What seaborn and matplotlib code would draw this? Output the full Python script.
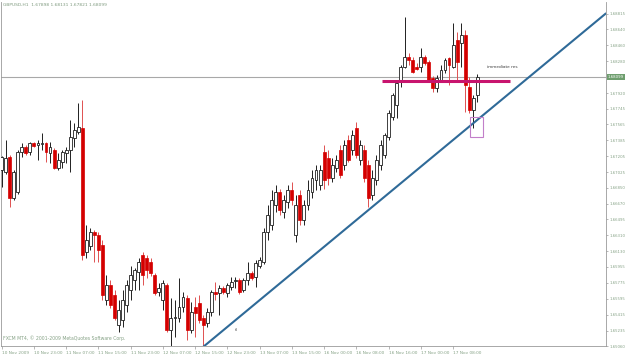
import matplotlib
matplotlib.use("Agg")
import matplotlib.pyplot as plt
import matplotlib.patches as mpatches
import seaborn as sns
import numpy as np
import pandas as pd

# ---------------- data ----------------
header_text = "GBPUSD,H1  1.67898 1.68131 1.67821 1.68099"
watermark = "FXCM MT4, \u00a9 2001-2009 MetaQuotes Software Corp."

opens = [1.6705, 1.6703, 1.6720, 1.6673, 1.6680, 1.6725, 1.6731, 1.6725, 1.6735, 1.6733,
         1.6734, 1.6735, 1.6724, 1.6728, 1.6707, 1.6714, 1.6724, 1.6728, 1.6741, 1.6748,
         1.6753, 1.6612, 1.6619, 1.6635, 1.6631, 1.6620, 1.6558, 1.6575, 1.6564, 1.6530,
         1.6535, 1.6552, 1.6569, 1.6581, 1.6590, 1.6609, 1.6606, 1.6601, 1.6586, 1.6567,
         1.6558, 1.6575, 1.6524, 1.6538, 1.6538, 1.6550, 1.6560, 1.6524, 1.6550, 1.6555,
         1.6538, 1.6532, 1.6544, 1.6567, 1.6566, 1.6572, 1.6566, 1.6573, 1.6579, 1.6581,
         1.6569, 1.6581, 1.6588, 1.6584, 1.6597, 1.6601, 1.6635, 1.6643, 1.6665, 1.6680,
         1.6658, 1.6669, 1.6682, 1.6632, 1.6677, 1.6648, 1.6665, 1.6680, 1.6694, 1.6688,
         1.6725, 1.6719, 1.6696, 1.6707, 1.6728, 1.6711, 1.6739, 1.6728, 1.6753, 1.6716,
         1.6728, 1.6711, 1.6677, 1.6694, 1.6711, 1.6722, 1.6742, 1.6765, 1.6779, 1.6805,
         1.6822, 1.6833, 1.6829, 1.6822, 1.6822, 1.6833, 1.6827, 1.6809, 1.6798, 1.6807,
         1.6818, 1.6832, 1.6822, 1.6852, 1.6849, 1.6858, 1.6799, 1.6773, 1.67898]
highs = [1.6721, 1.6739, 1.6722, 1.6705, 1.6728, 1.6735, 1.6733, 1.6737, 1.6737, 1.6739,
         1.6747, 1.6737, 1.6737, 1.6730, 1.6724, 1.6728, 1.6731, 1.6762, 1.6758, 1.6781,
         1.6784, 1.6643, 1.6639, 1.6637, 1.6635, 1.6626, 1.6586, 1.6581, 1.6569, 1.6558,
         1.6569, 1.6581, 1.6597, 1.6594, 1.6606, 1.6612, 1.6609, 1.6606, 1.6588, 1.6577,
         1.6581, 1.6577, 1.6560, 1.6558, 1.6583, 1.6567, 1.6564, 1.6556, 1.6561, 1.6564,
         1.6541, 1.6549, 1.6569, 1.6578, 1.6575, 1.6574, 1.6577, 1.6584, 1.6584, 1.6583,
         1.6583, 1.6601, 1.6591, 1.6603, 1.6607, 1.6639, 1.6665, 1.6682, 1.6688, 1.6684,
         1.6677, 1.6688, 1.6691, 1.6677, 1.6682, 1.6671, 1.6694, 1.6705, 1.6711, 1.6711,
         1.6733, 1.6728, 1.6719, 1.6722, 1.6733, 1.6739, 1.6745, 1.6750, 1.6759, 1.6739,
         1.6733, 1.6716, 1.6705, 1.6722, 1.6739, 1.6747, 1.6773, 1.6792, 1.6807, 1.6824,
         1.6878, 1.6837, 1.6833, 1.6826, 1.6843, 1.6835, 1.6829, 1.6811, 1.6812, 1.6824,
         1.6832, 1.6833, 1.6871, 1.6861, 1.6871, 1.6863, 1.6810, 1.6790, 1.68131]
lows = [1.6686, 1.6701, 1.6663, 1.6671, 1.6678, 1.6720, 1.6722, 1.6722, 1.6731, 1.6716,
        1.6728, 1.6714, 1.6713, 1.6706, 1.6705, 1.6707, 1.6713, 1.6703, 1.6731, 1.6746,
        1.6603, 1.6606, 1.6615, 1.6601, 1.6601, 1.6558, 1.6552, 1.6549, 1.6535, 1.6522,
        1.6527, 1.6544, 1.6558, 1.6569, 1.6569, 1.6575, 1.6583, 1.6585, 1.6564, 1.6563,
        1.6547, 1.6522, 1.6505, 1.6516, 1.6533, 1.6544, 1.6513, 1.6521, 1.6516, 1.6532,
        1.6505, 1.6528, 1.6540, 1.6558, 1.6541, 1.6565, 1.6561, 1.6569, 1.6572, 1.6565,
        1.6567, 1.6575, 1.6581, 1.6573, 1.6594, 1.6599, 1.6626, 1.6637, 1.6658, 1.6654,
        1.6651, 1.6662, 1.6665, 1.6624, 1.6643, 1.6643, 1.6660, 1.6673, 1.6682, 1.6682,
        1.6684, 1.6688, 1.6691, 1.6703, 1.6696, 1.6705, 1.6714, 1.6722, 1.6719, 1.6711,
        1.6691, 1.6663, 1.6671, 1.6688, 1.6705, 1.6719, 1.6739, 1.6762, 1.6764, 1.6799,
        1.6820, 1.6824, 1.6815, 1.6818, 1.6816, 1.6824, 1.6805, 1.6793, 1.6793, 1.6805,
        1.6815, 1.6801, 1.6820, 1.6807, 1.6822, 1.6771, 1.6769, 1.6753, 1.67821]
closes = [1.6720, 1.6719, 1.6673, 1.6703, 1.6725, 1.6731, 1.6724, 1.6735, 1.6732, 1.6735,
          1.6735, 1.6725, 1.6731, 1.6707, 1.6716, 1.6725, 1.6728, 1.6742, 1.6750, 1.6754,
          1.6609, 1.6626, 1.6635, 1.6631, 1.6615, 1.6564, 1.6575, 1.6552, 1.6538, 1.6547,
          1.6558, 1.6575, 1.6586, 1.6592, 1.6601, 1.6586, 1.6592, 1.6588, 1.6566, 1.6572,
          1.6577, 1.6524, 1.6538, 1.6539, 1.6550, 1.6561, 1.6524, 1.6544, 1.6543, 1.6535,
          1.6530, 1.6544, 1.6567, 1.6565, 1.6572, 1.6567, 1.6575, 1.6578, 1.6581, 1.6567,
          1.6581, 1.6588, 1.6583, 1.6600, 1.6603, 1.6635, 1.6654, 1.6671, 1.6680, 1.6660,
          1.6671, 1.6682, 1.6671, 1.6665, 1.6648, 1.6665, 1.6682, 1.6696, 1.6705, 1.6705,
          1.6694, 1.6696, 1.6711, 1.6716, 1.6699, 1.6733, 1.6716, 1.6745, 1.6722, 1.6733,
          1.6696, 1.6673, 1.6696, 1.6716, 1.6733, 1.6745, 1.6769, 1.6790, 1.6803, 1.6822,
          1.6833, 1.6829, 1.6816, 1.6819, 1.6833, 1.6826, 1.6807, 1.6798, 1.6809, 1.6818,
          1.6829, 1.6824, 1.6846, 1.6827, 1.6858, 1.6801, 1.6773, 1.6786, 1.68099]

x_tick_bars = [0, 8, 16, 24, 32, 40, 48, 56, 64, 72, 80, 88, 96, 104, 112]
x_tick_labels = ["10 Nov 2009", "10 Nov 23:00", "11 Nov 07:00", "11 Nov 15:00",
                 "11 Nov 23:00", "12 Nov 07:00", "12 Nov 15:00", "12 Nov 23:00",
                 "13 Nov 07:00", "13 Nov 15:00", "16 Nov 00:00", "16 Nov 08:00",
                 "16 Nov 16:00", "17 Nov 00:00", "17 Nov 08:00"]
y_tick_values = [1.68815, 1.68640, 1.68460, 1.68280, 1.67920, 1.67745, 1.67565,
                 1.67385, 1.67205, 1.67025, 1.66850, 1.66670, 1.66495, 1.66310,
                 1.66130, 1.65955, 1.65775, 1.65595, 1.65415, 1.65235, 1.65060]
bid_price = 1.68099

trend_bars = [50.0, 149.9]
trend_prices = [1.6505, 1.6882]
res_bars = [94.4, 126.1]
res_price = 1.6806
res_label = "immediate res"
box_bars = [116.2, 119.4]
box_prices = [1.6742, 1.6765]
tl_label = "tl"
tl_pos = [57.9, 1.6524]
res_label_pos = [120.3, 1.6822]

# ---------------- figure ----------------
sns.set_style("white")
plt.rcParams['font.family'] = ['DejaVu Sans']

fig = plt.figure(figsize=(6.25, 3.64), dpi=100)
ax = fig.add_axes([1 / 625, 18 / 364, 605 / 625, 344 / 364])

n = len(opens)
idx = np.arange(n)
o = np.array(opens); h = np.array(highs); l = np.array(lows); c = np.array(closes)
up = c >= o
red = "#d40000"
wick_cols = np.where(up, "#202020", "#e05050")

ax.vlines(idx, l, h, colors=list(wick_cols), linewidth=0.7, zorder=2)
body_bottom = np.minimum(o, c)
body_h = np.maximum(np.abs(c - o), 0.00003)
ax.bar(idx[up], body_h[up], bottom=body_bottom[up], width=0.72,
       color="white", edgecolor="#202020", linewidth=0.6, zorder=3)
ax.bar(idx[~up], body_h[~up], bottom=body_bottom[~up], width=0.72,
       color=red, edgecolor=red, linewidth=0.5, zorder=3)

# bid line
ax.axhline(bid_price, color="#a8a8a8", linewidth=0.8, zorder=1)

# trendline
tdf = pd.DataFrame({"bar": trend_bars, "price": trend_prices})
sns.lineplot(data=tdf, x="bar", y="price", ax=ax, color="#2f6a98",
             linewidth=1.5, zorder=5)

# resistance line
ax.plot(res_bars, [res_price, res_price], color="#c8146e", linewidth=2.2,
        solid_capstyle="butt", zorder=6)
ax.text(res_label_pos[0], res_label_pos[1], res_label, fontsize=3.1,
        color="#404040", va="center", ha="left")
ax.add_patch(mpatches.Rectangle((box_bars[0], box_prices[0]),
                                box_bars[1] - box_bars[0], box_prices[1] - box_prices[0],
                                fill=False, edgecolor="#c27fc9", linewidth=0.8, zorder=6))
ax.text(tl_pos[0], tl_pos[1], tl_label, fontsize=3.1, color="#505050",
        va="center", ha="left")

ax.set_xlim(-0.17, 149.95)
ax.set_ylim(1.65060, 1.68950)
ax.set_xlabel("")
ax.set_ylabel("")

label_col = "#86a286"
ax.yaxis.tick_right()
ax.set_yticks(y_tick_values)
ax.set_yticklabels([f"{v:.5f}" for v in y_tick_values])
ax.tick_params(axis="y", which="both", right=True, left=False, length=1.5,
               width=0.5, color="#9a9a9a", pad=0.8, labelsize=2.8,
               labelcolor=label_col)
ax.set_xticks(x_tick_bars)
ax.set_xticklabels(x_tick_labels, ha="left")
ax.tick_params(axis="x", which="both", bottom=True, length=2, width=0.5,
               color="#9a9a9a", pad=1.5, labelsize=3.1, labelcolor=label_col)

ax.spines["top"].set_visible(False)
for side in ["left", "right", "bottom"]:
    ax.spines[side].set_color("#9a9a9a")
    ax.spines[side].set_linewidth(0.6)

# current price marker on the right scale
ax.text(1.0 + 2 / 605, bid_price, f"{bid_price:.5f}", transform=ax.get_yaxis_transform(),
        fontsize=2.8, color="white", va="center", ha="left",
        bbox=dict(boxstyle="square,pad=0.25", facecolor="#6e9e6e", edgecolor="none"),
        zorder=10, clip_on=False)

fig.text(3 / 625, 1 - 5 / 364, header_text, fontsize=3.2, color="#7f9a7f",
         va="center", ha="left")
ax.text(0.004, 1.6515, watermark, fontsize=3.3, color="#86a286",
        transform=ax.get_yaxis_transform(), va="center", ha="left")

fig.savefig("out.png", dpi=100, facecolor="white")
